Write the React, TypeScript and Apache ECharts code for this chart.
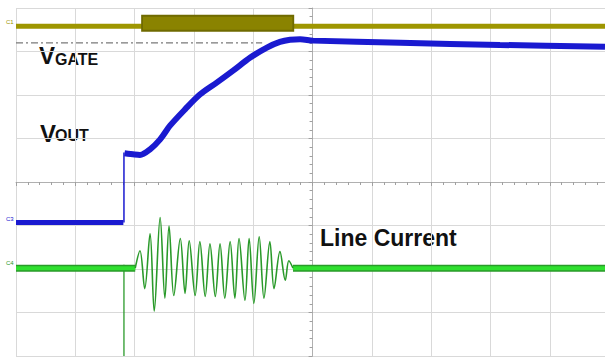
import React, { useEffect, useRef } from "react";
import * as echarts from "echarts";

// All values in oscilloscope divisions (x: -5..4.93, y: -4..4)
const ch1Base: number[][] = [[-5, 3.58], [4.93, 3.58]];
const ch1BurstBody: number[][] = [[-2.89, 3.65], [-0.31, 3.65]];
const ch1BurstCore: number[][] = [[-2.86, 3.65], [-0.34, 3.65]];
const gateRef: number[][] = [[-5, 3.2], [-0.85, 3.2]];

const voutLow: number[][] = [[-5, -0.93], [-3.19, -0.93]];
const voutStep: number[][] = [[-3.18, -0.93], [-3.18, 0.68]];
const voutRise: number[][] = [
  [-3.17, 0.66], [-3.0, 0.63], [-2.91, 0.62], [-2.74, 0.75], [-2.57, 0.98],
  [-2.4, 1.3], [-2.15, 1.67], [-1.9, 2.01], [-1.61, 2.29], [-1.34, 2.56],
  [-1.05, 2.86], [-0.77, 3.09], [-0.55, 3.22], [-0.38, 3.27], [-0.21, 3.28],
  [0.01, 3.25], [1.48, 3.2], [3.16, 3.15], [4.93, 3.11],
];

const currentBefore: number[][] = [[-5, -1.98], [-2.99, -1.98]];
const currentAfter: number[][] = [[-0.33, -1.98], [4.93, -1.98]];
const currentSpike: number[][] = [[-3.18, -1.9], [-3.18, -4]];
const currentBurst: number[][] = [
  [-2.99, -1.98], [-2.91, -1.58], [-2.83, -2.45], [-2.74, -1.19], [-2.67, -2.97],
  [-2.57, -0.82], [-2.49, -2.67], [-2.42, -1.01], [-2.34, -2.61], [-2.23, -1.3],
  [-2.15, -2.56], [-2.08, -1.35], [-1.98, -2.61], [-1.9, -1.37], [-1.81, -2.63],
  [-1.73, -1.42], [-1.64, -2.63], [-1.56, -1.42], [-1.48, -2.67], [-1.39, -1.37],
  [-1.31, -2.67], [-1.24, -1.3], [-1.14, -2.72], [-1.07, -1.3], [-0.99, -2.79],
  [-0.9, -1.26], [-0.82, -2.67], [-0.72, -1.37], [-0.65, -2.45], [-0.55, -1.6],
  [-0.46, -2.26], [-0.4, -1.81], [-0.33, -1.98],
];

const labelGate = ["V", "GATE"];
const labelOut = ["V", "OUT"];
const labelCurrent = "Line Current";
const channelTags = ["C1", "C3", "C4"];

const YEL = "#9e9600";
const YEL_D = "#6f6a00";
const YEL_B = "#8a8300";
const BLUE = "#1a1ad0";
const GREEN = "#2fe02f";
const GREEN_D = "#2a9a2a";

export default function App() {
  const ref = useRef<HTMLDivElement>(null);
  useEffect(() => {
    if (!ref.current) return;
    const chart = echarts.init(ref.current, null, { renderer: "svg" });
    const line = (data: number[][], color: string, width: number, extra: any = {}) => ({
      type: "line",
      data,
      showSymbol: false,
      symbol: "none",
      silent: true,
      lineStyle: { color, width, ...(extra.lineStyle || {}) },
      smooth: extra.smooth || false,
      z: extra.z || 2,
    });
    const font = "Liberation Sans, Arial, sans-serif";
    chart.setOption({
      animation: false,
      backgroundColor: "#ffffff",
      grid: { left: 16, top: 8, right: 0, bottom: 2, containLabel: false },
      xAxis: {
        type: "value",
        min: -5,
        max: 4.93,
        interval: 1,
        axisLine: { show: true, onZero: true, lineStyle: { color: "#b0b0b0", width: 1 } },
        axisTick: { show: true, length: 4, lineStyle: { color: "#a0a0a0" } },
        minorTick: { show: true, splitNumber: 5, length: 3, lineStyle: { color: "#a0a0a0" } },
        axisLabel: { show: false },
        splitLine: { show: true, lineStyle: { color: "#d9d9d9", width: 1 } },
      },
      yAxis: {
        type: "value",
        min: -4,
        max: 4,
        interval: 1,
        axisLine: { show: true, onZero: true, lineStyle: { color: "#b0b0b0", width: 1 } },
        axisTick: { show: true, length: 4, lineStyle: { color: "#a0a0a0" } },
        minorTick: { show: true, splitNumber: 5, length: 3, lineStyle: { color: "#a0a0a0" } },
        axisLabel: { show: false },
        splitLine: { show: true, lineStyle: { color: "#d9d9d9", width: 1 } },
      },
      series: [
        line(ch1Base, YEL, 5),
        line(ch1BurstBody, YEL_D, 17, { lineStyle: { cap: "butt" }, z: 3 }),
        line(ch1BurstCore, YEL_B, 13, { lineStyle: { cap: "butt" }, z: 3 }),
        line(gateRef, "#7a7a7a", 1.3, { lineStyle: { type: [7, 3, 2, 3] } }),
        line(voutLow, BLUE, 5, { z: 4 }),
        line(voutStep, BLUE, 1.5, { z: 4 }),
        line(voutRise, BLUE, 6, { z: 4, smooth: 0.3 }),
        line(currentSpike, GREEN_D, 1.3, { z: 5 }),
        line(currentBefore, GREEN_D, 7, { z: 5 }),
        line(currentBefore, GREEN, 4, { z: 6 }),
        line(currentAfter, GREEN_D, 7, { z: 5 }),
        line(currentAfter, GREEN, 4, { z: 6 }),
        line(currentBurst, GREEN_D, 1.6, { z: 6, smooth: 0.35 }),
      ],
      graphic: [
        { type: "text", left: 39, top: 43, style: { text: labelGate[0], font: `bold 24px ${font}`, fill: "#111" } },
        { type: "text", left: 55, top: 51, style: { text: labelGate[1], font: `bold 16px ${font}`, fill: "#111" } },
        { type: "text", left: 40, top: 121, style: { text: labelOut[0], font: `bold 24px ${font}`, fill: "#111" } },
        { type: "text", left: 55, top: 127, style: { text: labelOut[1], font: `bold 16px ${font}`, fill: "#111" } },
        { type: "text", left: 320, top: 226, style: { text: labelCurrent, font: `bold 23px ${font}`, fill: "#111" } },
        { type: "text", left: 6, top: 19, style: { text: channelTags[0], font: `6px ${font}`, fill: YEL } },
        { type: "text", left: 6, top: 216, style: { text: channelTags[1], font: `6px ${font}`, fill: BLUE } },
        { type: "text", left: 6, top: 260, style: { text: channelTags[2], font: `6px ${font}`, fill: GREEN_D } },
      ],
    });
    return () => chart.dispose();
  }, []);
  return (
    <div
      ref={ref}
      style={{ position: "fixed", left: 0, top: 0, width: 605, height: 358, background: "#fff" }}
    />
  );
}
